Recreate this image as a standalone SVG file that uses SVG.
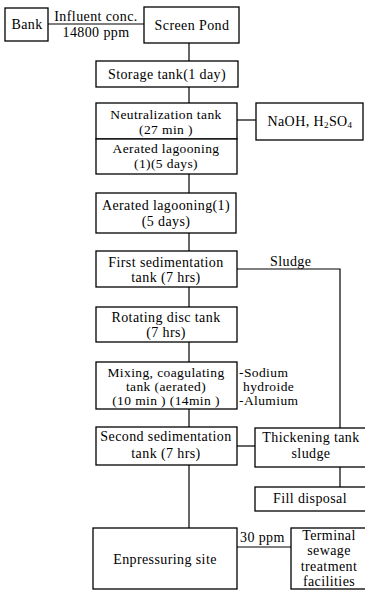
<svg xmlns="http://www.w3.org/2000/svg" width="365" height="591" viewBox="0 0 365 591">
<style>
.box{fill:#fff;stroke:#000;stroke-width:1.3}
.ln{fill:none;stroke:#000;stroke-width:1.2}
text{font-family:"Liberation Serif","Times New Roman",serif;font-size:14px;fill:#000;letter-spacing:0.4px}
.c{text-anchor:middle}
.s{font-size:13.5px}
.sub{font-size:9px}
</style>
<rect width="365" height="591" fill="#fff"/>
<g id="connectors">
<path class="ln" d="M48,24H144"/>
<text class="c" x="96" y="21">Influent conc.</text>
<text class="c" x="96" y="37">14800 ppm</text>
<path class="ln" d="M189,43V61"/>
<path class="ln" d="M189,87V103"/>
<path class="ln" d="M237,120H256"/>
<path class="ln" d="M189,174V193"/>
<path class="ln" d="M189,233V251"/>
<path class="ln" d="M237,269H340V428"/>
<text x="270" y="266">Sludge</text>
<path class="ln" d="M189,287V307"/>
<path class="ln" d="M189,342V362"/>
<path class="ln" d="M189,409V427"/>
<path class="ln" d="M237,446H255"/>
<path class="ln" d="M340,467V487"/>
<path class="ln" d="M189,465V528"/>
<path class="ln" d="M237,547H291"/>
<text x="240" y="542">30 ppm</text>
</g>
<g id="bank">
<rect class="box" x="5" y="8" width="43" height="33"/>
<text class="c" x="27" y="29">Bank</text>
</g>
<g id="screen-pond">
<rect class="box" x="144" y="7" width="95" height="36"/>
<text class="c" x="192" y="30">Screen Pond</text>
</g>
<g id="storage-tank">
<rect class="box" x="96" y="61" width="142" height="26"/>
<text class="c" x="167" y="79">Storage tank(1 day)</text>
</g>
<g id="neutralization-tank">
<rect class="box" x="96" y="103" width="141" height="36"/>
<text class="c s" x="166" y="119">Neutralization tank</text>
<text class="c s" x="166" y="134">(27 min )</text>
</g>
<g id="aerated-lagooning-a">
<rect class="box" x="96" y="139" width="141" height="35"/>
<text class="c s" x="166" y="153">Aerated lagooning</text>
<text class="c s" x="166" y="168">(1)(5 days)</text>
</g>
<g id="chemicals">
<rect class="box" x="256" y="103" width="107" height="37"/>
<text class="c" x="310" y="126">NaOH, H<tspan class="sub" dy="2">2</tspan><tspan dy="-2">SO</tspan><tspan class="sub" dy="2">4</tspan></text>
</g>
<g id="aerated-lagooning-b">
<rect class="box" x="96" y="193" width="140" height="40"/>
<text class="c" x="166" y="210">Aerated lagooning(1)</text>
<text class="c" x="166" y="226">(5 days)</text>
</g>
<g id="first-sedimentation">
<rect class="box" x="96" y="251" width="141" height="36"/>
<text class="c" x="166" y="267">First sedimentation</text>
<text class="c" x="166" y="282">tank (7 hrs)</text>
</g>
<g id="rotating-disc">
<rect class="box" x="96" y="307" width="141" height="35"/>
<text class="c" x="166" y="322">Rotating disc tank</text>
<text class="c" x="166" y="337">(7 hrs)</text>
</g>
<g id="mixing-tank">
<rect class="box" x="96" y="362" width="141" height="47"/>
<text class="c s" x="166" y="377">Mixing, coagulating</text>
<text class="c s" x="166" y="391">tank (aerated)</text>
<text class="c s" x="166" y="405">(10 min ) (14min )</text>
<text class="s" x="239" y="377">-Sodium</text>
<text class="s" x="243" y="391">hydroide</text>
<text class="s" x="239" y="405">-Alumium</text>
</g>
<g id="second-sedimentation">
<rect class="box" x="96" y="427" width="141" height="38"/>
<text class="c" x="166" y="441">Second sedimentation</text>
<text class="c" x="166" y="458">tank (7 hrs)</text>
</g>
<g id="thickening-tank">
<rect class="box" x="255" y="428" width="112" height="39"/>
<text class="c" x="311" y="442">Thickening tank</text>
<text class="c" x="311" y="458">sludge</text>
</g>
<g id="fill-disposal">
<rect class="box" x="255" y="487" width="112" height="24"/>
<text class="c" x="310" y="503">Fill disposal</text>
</g>
<g id="enpressuring-site">
<rect class="box" x="93" y="528" width="144" height="61"/>
<text class="c" x="165" y="564">Enpressuring site</text>
</g>
<g id="terminal-facilities">
<rect class="box" x="291" y="528" width="76" height="61"/>
<text class="c" x="329" y="540">Terminal</text>
<text class="c" x="329" y="555">sewage</text>
<text class="c" x="329" y="571">treatment</text>
<text class="c" x="329" y="586">facilities</text>
</g>
</svg>
